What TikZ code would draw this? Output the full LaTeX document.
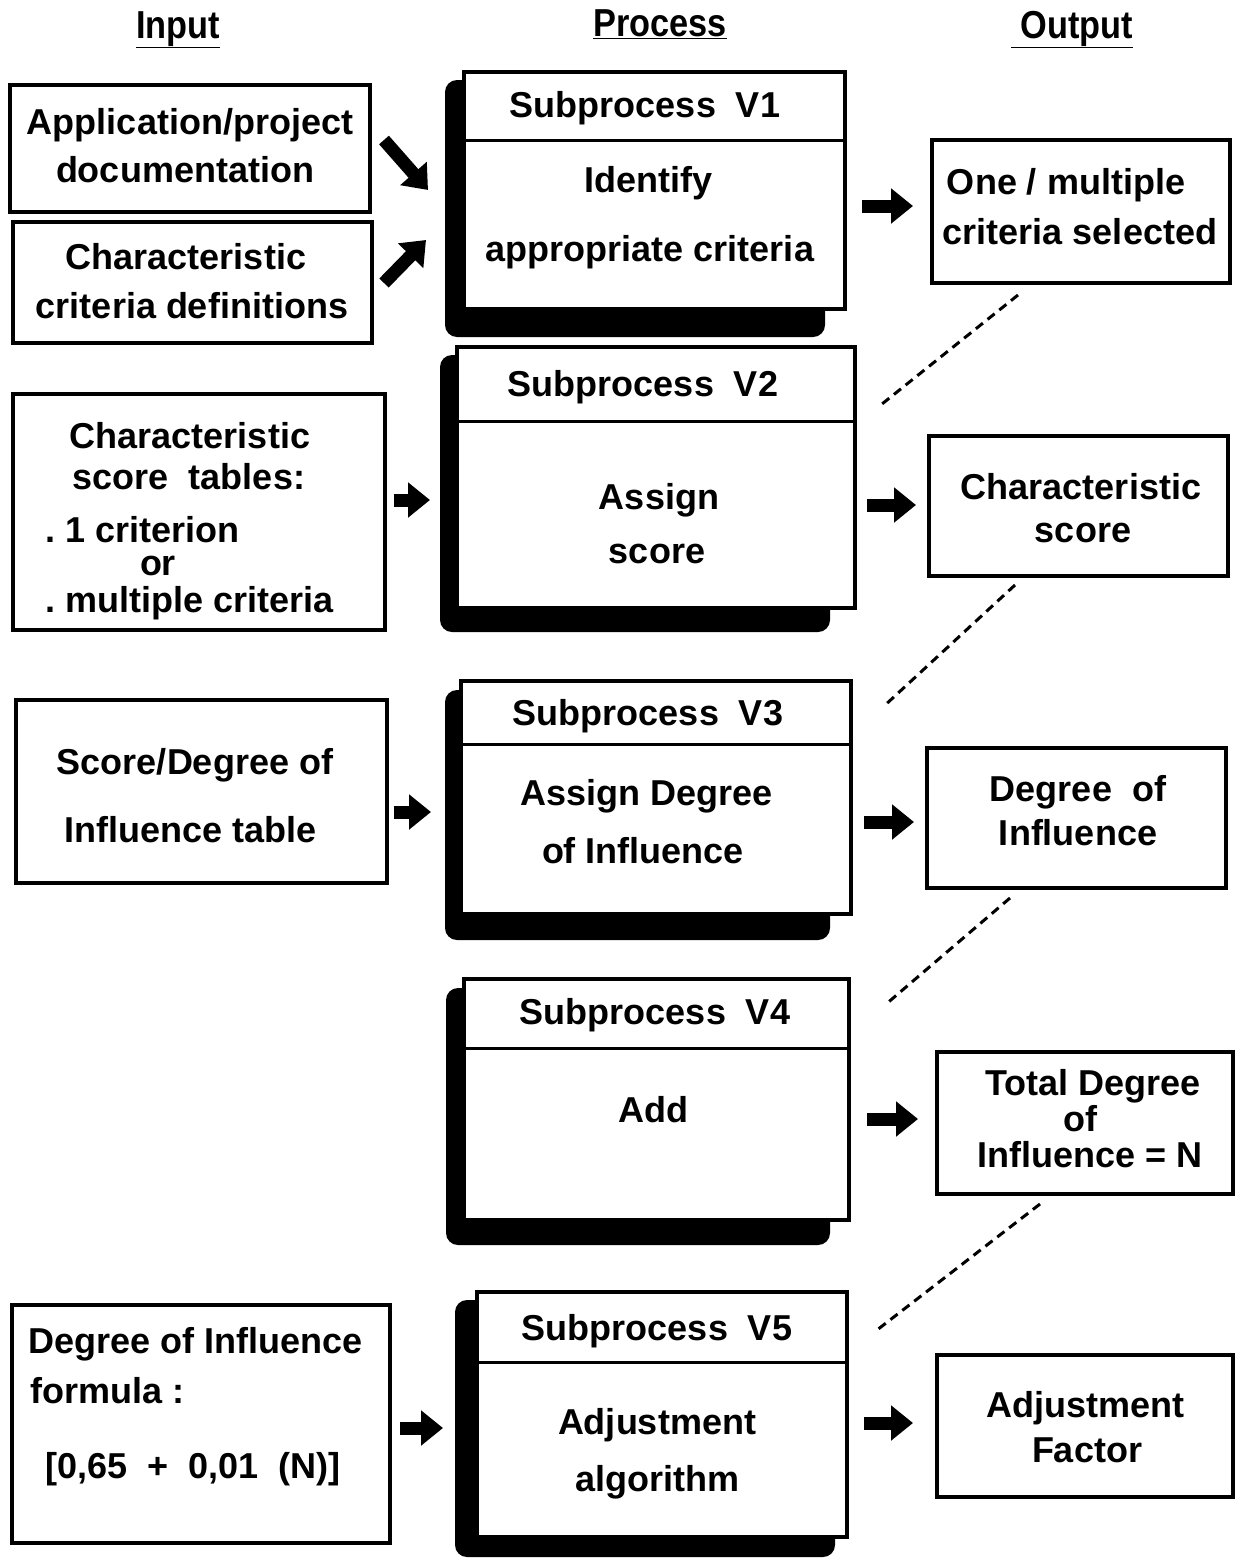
\documentclass[tikz,border=0pt]{standalone}
\usepackage{fontspec}
\setmainfont{Liberation Sans}
\usetikzlibrary{arrows.meta,fit,calc}

\begin{document}
\begin{tikzpicture}[x=1pt,y=-1pt,
  box/.style={draw,line width=4pt,inner sep=0pt,fill=white},
  shade/.style={fill=black,rounded corners=12pt},
  sepline/.style={line width=3pt},
  txt/.style={font=\fontsize{36}{40}\selectfont\bfseries,inner sep=0pt,anchor=base},
  txtl/.style={txt,anchor=base west},
  head/.style={font=\fontsize{39}{42}\selectfont\bfseries,inner sep=0pt,anchor=base},
  blk/.style={line width=13pt,-{Triangle[length=22pt,width=34pt]}},
  dep/.style={line width=3pt,dash pattern=on 9pt off 6pt},
]
\useasboundingbox (0,0) rectangle (1236,1558);

% column headings
\node[head] (hIn)  at (178,38) {\scalebox{0.88}[1]{\underline{Input}}};
\node[head] (hPr)  at (660,36) {\scalebox{0.88}[1]{\underline{Process}}};
\node[head] (hOut) at (1072,38) {\scalebox{0.88}[1]{\underline{\ Output}}};

% input boxes
\node[box,fit={(10,85)(370,212)}]   (In1) {};
\node[box,fit={(13,222)(372,343)}]  (In2) {};
\node[box,fit={(13,394)(385,630)}]  (In3) {};
\node[box,fit={(16,700)(387,883)}]  (In4) {};
\node[box,fit={(12,1305)(390,1543)}] (In5) {};

\node[txt] (In1a) at (190,134) {Application/project};
\node[txt] (In1b) at (185,182) {documentation};
\node[txt] (In2a) at (186,269) {Characteristic};
\node[txt] (In2b) at (192,318) {criteria definitions};
\node[txt] (In3a) at (190,448) {Characteristic};
\node[txt] (In3b) at (189,489) {score\ \ tables:};
\node[txtl] (In3c) at (45,542) {.\ 1 criterion};
\node[txt] (In3d) at (158,575) {or};
\node[txtl] (In3e) at (45,612) {.\ multiple criteria};
\node[txt] (In4a) at (195,774) {Score/Degree of};
\node[txt] (In4b) at (191,842) {Influence table};
\node[txtl] (In5a) at (28,1353) {Degree of Influence};
\node[txtl] (In5b) at (30,1403) {formula :};
\node[txtl] (In5c) at (45,1478) {[0,65\ \ +\ \ 0,01\ \ (N)]};

% process blocks: shadow, framed box, title rule
\fill[shade] (445,80) rectangle (825,337);
\node[box,fit={(464,72)(845,309)}] (P1) {};
\draw[sepline] (P1.west |- 0,140) -- (P1.east |- 0,140);
\node[txt] (P1t) at (645,117) {Subprocess\ \ V1};
\node[txt] (P1a) at (648,192) {Identify};
\node[txt] (P1b) at (650,261) {appropriate criteria};

\fill[shade] (440,355) rectangle (830,632);
\node[box,fit={(457,347)(855,608)}] (P2) {};
\draw[sepline] (P2.west |- 0,421) -- (P2.east |- 0,421);
\node[txt] (P2t) at (643,396) {Subprocess\ \ V2};
\node[txt] (P2a) at (659,509) {Assign};
\node[txt] (P2b) at (657,563) {score};

\fill[shade] (445,690) rectangle (830,940);
\node[box,fit={(461,681)(851,914)}] (P3) {};
\draw[sepline] (P3.west |- 0,744) -- (P3.east |- 0,744);
\node[txt] (P3t) at (648,725) {Subprocess\ \ V3};
\node[txt] (P3a) at (647,805) {Assign Degree};
\node[txt] (P3b) at (643,863) {of Influence};

\fill[shade] (446,988) rectangle (830,1245);
\node[box,fit={(464,979)(849,1220)}] (P4) {};
\draw[sepline] (P4.west |- 0,1048) -- (P4.east |- 0,1048);
\node[txt] (P4t) at (655,1024) {Subprocess\ \ V4};
\node[txt] (P4a) at (653,1122) {Add};

\fill[shade] (455,1300) rectangle (835,1557);
\node[box,fit={(477,1292)(847,1537)}] (P5) {};
\draw[sepline] (P5.west |- 0,1362) -- (P5.east |- 0,1362);
\node[txt] (P5t) at (657,1340) {Subprocess\ \ V5};
\node[txt] (P5a) at (657,1434) {Adjustment};
\node[txt] (P5b) at (657,1491) {algorithm};

% output boxes
\node[box,fit={(932,140)(1230,283)}]   (O1) {};
\node[box,fit={(929,436)(1228,576)}]   (O2) {};
\node[box,fit={(927,748)(1226,888)}]   (O3) {};
\node[box,fit={(937,1052)(1233,1194)}] (O4) {};
\node[box,fit={(937,1355)(1233,1497)}] (O5) {};

\node[txt] (O1a) at (1066,194) {One / multiple};
\node[txt] (O1b) at (1080,244) {criteria selected};
\node[txt] (O2a) at (1081,499) {Characteristic};
\node[txt] (O2b) at (1083,542) {score};
\node[txt] (O3a) at (1078,801) {Degree\ \ of};
\node[txt] (O3b) at (1078,845) {Influence};
\node[txt] (O4a) at (1093,1095) {Total Degree};
\node[txt] (O4b) at (1080,1131) {of};
\node[txt] (O4c) at (1090,1167) {Influence\ =\ N};
\node[txt] (O5a) at (1085,1417) {Adjustment};
\node[txt] (O5b) at (1087,1462) {Factor};

% input arrows
\draw[blk] ($(In1.east |- 0,140)+(12,0)$) -- ($(P1.west |- 0,190)+(-34,0)$);
\draw[blk] ($(In2.east |- 0,283)+(10,0)$) -- ($(P1.west |- 0,240)+(-36,0)$);
\draw[blk] ($(In3.east |- 0,500)+(7,0)$)  -- ($(P2.west |- 0,500)+(-25,0)$);
\draw[blk] ($(In4.east |- 0,812)+(5,0)$)  -- ($(P3.west |- 0,812)+(-28,0)$);
\draw[blk] ($(In5.east |- 0,1428)+(8,0)$) -- ($(P5.west |- 0,1428)+(-32,0)$);

% output arrows
\draw[blk] ($(P1.east |- 0,206)+(15,0)$)  -- ($(O1.west |- 0,206)+(-17,0)$);
\draw[blk] ($(P2.east |- 0,505)+(10,0)$)  -- ($(O2.west |- 0,505)+(-11,0)$);
\draw[blk] ($(P3.east |- 0,822)+(11,0)$)  -- ($(O3.west |- 0,822)+(-11,0)$);
\draw[blk] ($(P4.east |- 0,1119)+(16,0)$) -- ($(O4.west |- 0,1119)+(-17,0)$);
\draw[blk] ($(P5.east |- 0,1423)+(15,0)$) -- ($(O5.west |- 0,1423)+(-22,0)$);

% dashed links from each result to the next subprocess
\coordinate (d1s) at (1018,295);  \coordinate (d1e) at (882,404);
\coordinate (d2s) at (1015,585);  \coordinate (d2e) at (883,707);
\coordinate (d3s) at (1010,898);  \coordinate (d3e) at (885,1005);
\coordinate (d4s) at (1040,1204); \coordinate (d4e) at (877,1330);
\draw[dep] (d1s) -- (d1e);
\draw[dep] (d2s) -- (d2e);
\draw[dep] (d3s) -- (d3e);
\draw[dep] (d4s) -- (d4e);
\end{tikzpicture}
\end{document}
